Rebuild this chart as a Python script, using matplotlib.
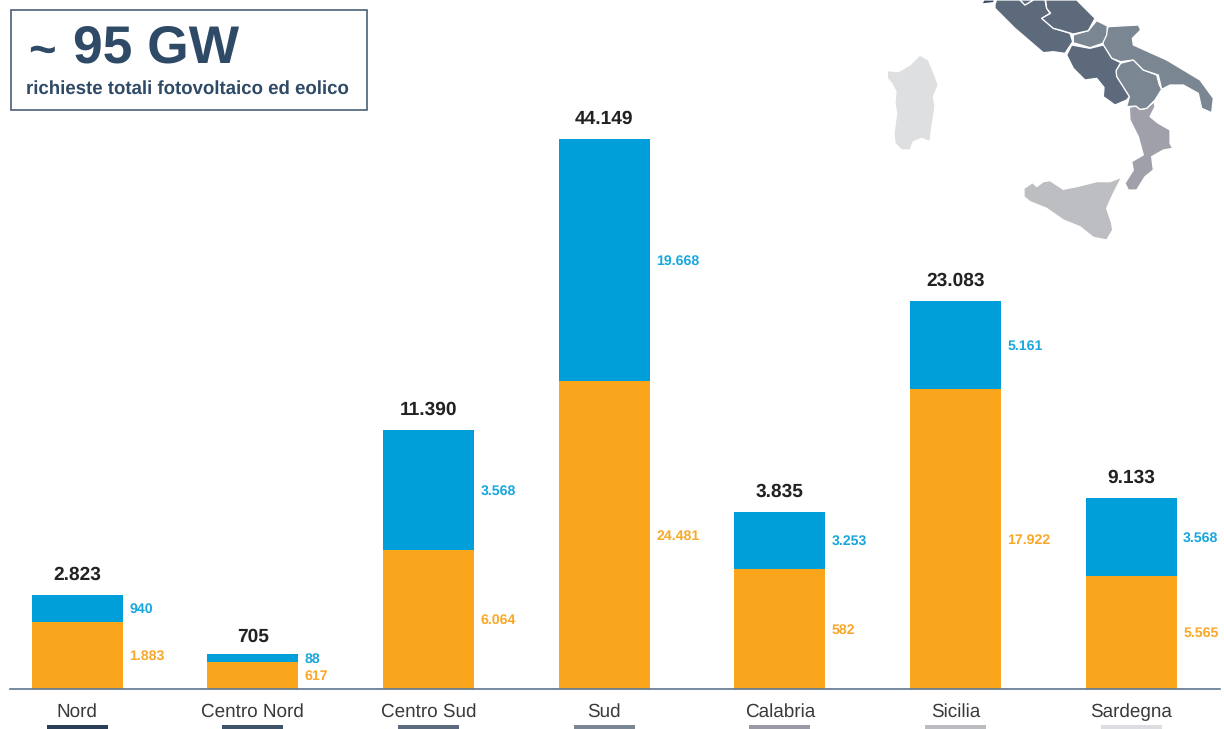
"""Richieste fotovoltaico ed eolico per zona di mercato."""

import matplotlib
matplotlib.use("Agg")
import matplotlib.pyplot as plt
from matplotlib.patches import Polygon, Rectangle
import numpy as np

plt.rcParams["font.family"] = ["Liberation Sans", "DejaVu Sans"]
plt.rcParams["text.hinting"] = "no_hinting"

zones = ["Nord", "Centro Nord", "Centro Sud", "Sud", "Calabria", "Sicilia", "Sardegna"]
total_labels = ["2.823", "705", "11.390", "44.149", "3.835", "23.083", "9.133"]
solar_labels = ["1.883", "617", "6.064", "24.481", "582", "17.922", "5.565"]
wind_labels = ["940", "88", "3.568", "19.668", "3.253", "5.161", "3.568"]

# drawn heights: the source bars do not follow their labels
solar_heights = [67, 27, 139, 308, 120, 300, 113]
wind_heights = [27, 8, 120, 242, 57, 88, 78]

zone_colors = ["#2a3f57", "#3f5468", "#5b6a7d", "#7b8695", "#9a9aa5", "#bbbcc0", "#dcdde0"]

ORANGE = "#f9a61c"
BLUE = "#009fda"
NAVY = "#2f4a66"

# map outlines, traced in crop coordinates (3x, crop origin 880,0)
map_regions = [
    ("#dedfe1", [(120, 165), (145, 180), (160, 215), (175, 255), (160, 290), (165, 320), (155, 385),
                 (150, 425), (125, 415), (100, 425), (90, 450), (65, 450), (45, 430), (42, 400),
                 (50, 340), (45, 310), (48, 275), (35, 250), (22, 235), (22, 212), (55, 215), (90, 195)]),
    ("#bdbec1", [(725, 532), (700, 580), (680, 625), (695, 670), (698, 690), (680, 720), (640, 712),
                 (600, 680), (550, 660), (500, 625), (450, 605), (432, 590), (432, 565), (458, 548),
                 (470, 560), (490, 545), (510, 542), (530, 555), (550, 568), (590, 560), (650, 545),
                 (690, 545)]),
    ("#a0a0aa", [(748, 322), (768, 318), (780, 328), (800, 325), (822, 305), (825, 320), (810, 350),
                 (835, 370), (870, 390), (870, 430), (878, 445), (850, 450), (815, 470), (820, 510),
                 (795, 530), (770, 570), (745, 570), (735, 550), (760, 510), (755, 485), (790, 465),
                 (775, 410), (750, 360)]),
    ("#7b8693", [(722, 190), (760, 180), (790, 210), (830, 225), (838, 255), (845, 268), (825, 300),
                 (800, 325), (780, 328), (768, 318), (740, 320), (748, 290), (710, 230), (708, 212)]),
    ("#7b8693", [(685, 80), (775, 75), (782, 90), (757, 115), (760, 135), (860, 180), (960, 240),
                 (1000, 295), (995, 338), (965, 325), (955, 280), (910, 255), (870, 255), (845, 268),
                 (835, 225), (790, 210), (760, 180), (722, 185), (695, 175), (670, 135), (668, 125)]),
    ("#7b8693", [(650, 62), (682, 78), (680, 105), (668, 130), (630, 143), (580, 128), (580, 105), (625, 92)]),
    ("#5d6a7c", [(560, 165), (575, 135), (630, 145), (670, 135), (695, 175), (722, 188), (708, 212),
                 (710, 230), (748, 290), (740, 300), (705, 315), (670, 290), (672, 262), (650, 235),
                 (615, 240), (580, 205)]),
    ("#5d6a7c", [(345, 12), (350, 0), (420, 0), (435, 15), (460, 0), (495, 0), (500, 25), (510, 40),
                 (485, 55), (520, 85), (570, 100), (578, 125), (555, 160), (520, 155), (490, 158),
                 (440, 115), (405, 85), (375, 55), (345, 25)]),
    ("#5d6a7c", [(497, 0), (590, 0), (645, 55), (625, 92), (580, 102), (540, 90), (520, 85), (485, 55),
                 (512, 40), (500, 25)]),
    ("#5d6a7c", [(420, 0), (460, 0), (435, 15)]),
    ("#34495f", [(305, 12), (312, 0), (345, 0), (340, 8)]),
]

W, H = 1224, 729
BASELINE = 689
LEFT, RIGHT = 10, 1220
FIRST, STEP = 77.2, 175.65

fig = plt.figure(figsize=(W / 100, H / 100), dpi=100)
ax = fig.add_axes([LEFT / W, (H - BASELINE) / H, (RIGHT - LEFT) / W, BASELINE / H])
ax.set_xlim((LEFT - FIRST) / STEP, (RIGHT - FIRST) / STEP)
ax.set_ylim(0, BASELINE)  # one unit is one pixel

x = np.arange(len(zones))
bar_w = 91 / STEP
ax.bar(x, solar_heights, width=bar_w, color=ORANGE, linewidth=0)
ax.bar(x, wind_heights, width=bar_w, bottom=solar_heights, color=BLUE, linewidth=0)
ax.bar(x, 4, width=61 / STEP, bottom=-40, color=zone_colors, linewidth=0, clip_on=False)

side_x = x + (91 / 2 + 6.5) / STEP
for i in x:
    top = solar_heights[i] + wind_heights[i]
    gap = 17 if zones[i] == "Centro Nord" else 20  # the short bar's total sits closer
    ax.text(i, top + gap, total_labels[i], ha="center", va="center", fontsize=13.8,
            fontweight="bold", color="#222222")
    ax.text(side_x[i], top - wind_heights[i] / 2 - 1, wind_labels[i], ha="left", va="center",
            fontsize=10.2, fontweight="bold", color="#1aa7dd")
    ax.text(side_x[i], solar_heights[i] / 2 - 1, solar_labels[i], ha="left", va="center",
            fontsize=10.2, fontweight="bold", color="#f9a82a")

for name in ["top", "left", "right"]:
    ax.spines[name].set_visible(False)
ax.spines["bottom"].set_color("#5f7690")
ax.spines["bottom"].set_linewidth(1.2)
ax.set_yticks([])
ax.set_xticks(x, zones)
ax.tick_params(axis="x", length=0, pad=10, labelsize=13.6, labelcolor="#3a3a3a")

# box and map sit on a full-figure overlay in pixel coordinates
over = fig.add_axes([0, 0, 1, 1], zorder=3)
over.set_xlim(0, W)
over.set_ylim(H, 0)
over.axis("off")
over.add_patch(Rectangle((10.5, 9.5), 356.5, 100.5, facecolor="none", edgecolor="#4a6078", linewidth=1.2))
over.text(28, 53, "~", ha="left", va="center", fontsize=34, fontweight="bold", color=NAVY)
over.text(73, 49, "95 GW", ha="left", va="center", fontsize=38.4, fontweight="bold", color=NAVY)
over.text(26, 88.5, "richieste totali fotovoltaico ed eolico", ha="left", va="center", fontsize=13.45,
          fontweight="bold", color=NAVY)
for color, outline in map_regions:
    pts = [(880 + px / 3, py / 3) for px, py in outline]
    over.add_patch(Polygon(pts, closed=True, facecolor=color, edgecolor="white", linewidth=0.9))

fig.savefig("out.png", dpi=100)
plt.close(fig)
